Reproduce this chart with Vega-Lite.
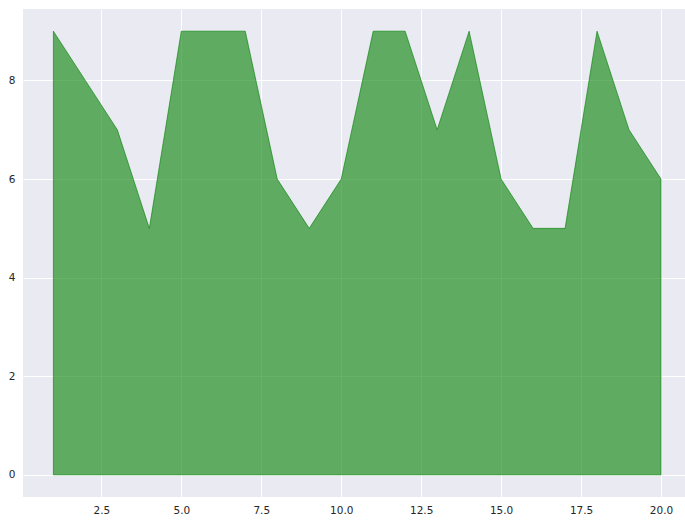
{
  "$schema": "https://vega.github.io/schema/vega-lite/v6.json",
  "width": 662,
  "height": 488,
  "autosize": {"type": "none"},
  "padding": {"left": 23, "top": 9, "right": 0, "bottom": 24},
  "background": "white",
  "config": {
    "view": {"fill": "#EAEAF2", "stroke": null},
    "axis": {
      "domain": false,
      "ticks": false,
      "gridColor": "white",
      "gridWidth": 1,
      "labelFont": "DejaVu Sans",
      "labelFontSize": 10.5,
      "labelColor": "#262626",
      "title": null
    }
  },
  "data": {
    "values": [
      {"x": 1, "y": 9}, {"x": 2, "y": 8}, {"x": 3, "y": 7}, {"x": 4, "y": 5},
      {"x": 5, "y": 9}, {"x": 6, "y": 9}, {"x": 7, "y": 9}, {"x": 8, "y": 6},
      {"x": 9, "y": 5}, {"x": 10, "y": 6}, {"x": 11, "y": 9}, {"x": 12, "y": 9},
      {"x": 13, "y": 7}, {"x": 14, "y": 9}, {"x": 15, "y": 6}, {"x": 16, "y": 5},
      {"x": 17, "y": 5}, {"x": 18, "y": 9}, {"x": 19, "y": 7}, {"x": 20, "y": 6}
    ]
  },
  "mark": {"type": "area", "fill": "#008000", "fillOpacity": 0.6, "stroke": "#008000", "strokeOpacity": 0.6, "strokeWidth": 1, "clip": true},
  "encoding": {
    "x": {
      "field": "x", "type": "quantitative",
      "scale": {"domain": [0.05, 20.75], "nice": false, "zero": false},
      "axis": {"values": [2.5, 5, 7.5, 10, 12.5, 15, 17.5, 20], "format": ".1f", "labelPadding": 8}
    },
    "y": {
      "field": "y", "type": "quantitative",
      "scale": {"domain": [-0.45, 9.45], "nice": false, "zero": false},
      "axis": {"values": [0, 2, 4, 6, 8], "format": "d", "labelPadding": 8}
    },
    "y2": {"datum": 0}
  }
}
